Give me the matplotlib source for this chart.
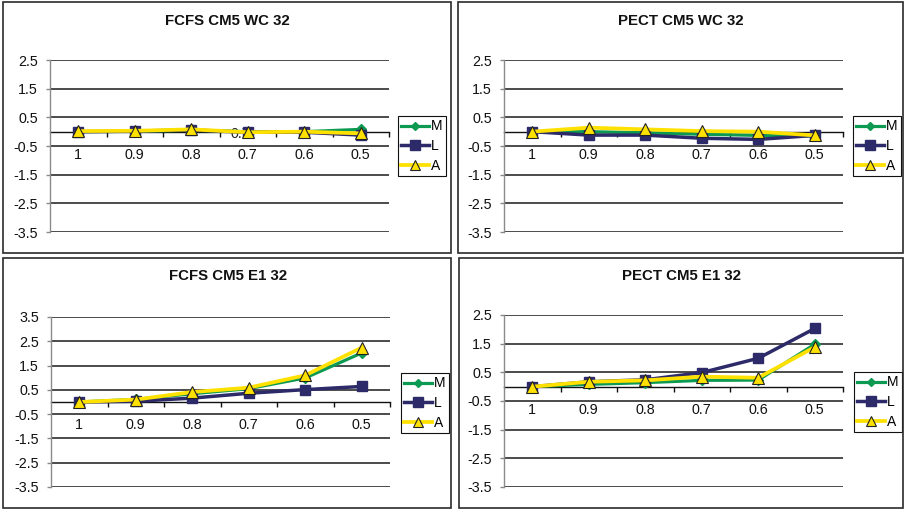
import matplotlib
matplotlib.use("Agg")
import matplotlib.pyplot as plt
from matplotlib.patches import Rectangle
from matplotlib.ticker import FixedLocator, NullFormatter

plt.rcParams['font.family'] = ['Liberation Sans', 'DejaVu Sans']

# ---- data ----
categories = ["1", "0.9", "0.8", "0.7", "0.6", "0.5"]
series_names = ["M", "L", "A"]

titles = ["FCFS CM5 WC 32", "PECT CM5 WC 32", "FCFS CM5 E1 32", "PECT CM5 E1 32"]

fcfs_wc_M = [0.0, 0.01, 0.05, 0.0, 0.0, 0.08]
fcfs_wc_L = [0.0, 0.02, 0.06, -0.02, -0.02, -0.12]
fcfs_wc_A = [0.02, 0.03, 0.08, -0.02, 0.0, -0.06]

pect_wc_M = [0.0, 0.0, -0.04, -0.09, -0.13, -0.15]
pect_wc_L = [0.0, -0.12, -0.12, -0.23, -0.27, -0.13]
pect_wc_A = [0.0, 0.14, 0.08, 0.02, 0.0, -0.13]

fcfs_e1_M = [0.0, 0.11, 0.34, 0.55, 0.99, 2.02]
fcfs_e1_L = [0.0, 0.03, 0.16, 0.36, 0.51, 0.64]
fcfs_e1_A = [0.0, 0.10, 0.41, 0.59, 1.10, 2.24]

pect_e1_M = [0.0, 0.08, 0.14, 0.22, 0.23, 1.48]
pect_e1_L = [0.0, 0.17, 0.24, 0.49, 0.99, 2.03]
pect_e1_A = [0.0, 0.17, 0.22, 0.35, 0.31, 1.38]

y_ticks_a = [-3.5, -2.5, -1.5, -0.5, 0.5, 1.5, 2.5]
y_ticks_b = [-3.5, -2.5, -1.5, -0.5, 0.5, 1.5, 2.5, 3.5]

panel_series = [
    (fcfs_wc_M, fcfs_wc_L, fcfs_wc_A),
    (pect_wc_M, pect_wc_L, pect_wc_A),
    (fcfs_e1_M, fcfs_e1_L, fcfs_e1_A),
    (pect_e1_M, pect_e1_L, pect_e1_A),
]
panel_yticks = [y_ticks_a, y_ticks_a, y_ticks_b, y_ticks_a]

# ---- layout (pixel boxes) ----
W, H = 905, 512
fig = plt.figure(figsize=(W / 100, H / 100), dpi=100)


def frac_rect(x0, y0, x1, y1):
    return [x0 / W, 1 - y1 / H, (x1 - x0) / W, (y1 - y0) / H]


borders = [(3, 2, 451, 253), (458, 2, 903, 253), (3, 258, 451, 508), (459, 258, 903, 508)]
plot_boxes = [(50, 60, 389, 232), (504, 60, 843, 232), (51, 317, 390, 487), (504, 315, 843, 487)]
legend_anchor = [(398, 116), (853, 116), (401, 373), (854, 372)]
title_pos = [(227, 21), (681, 21), (228, 276), (681, 276)]

TICK_FS = 10.3

styles = {
    "M": dict(color="#0c9a52", marker="D", markersize=4.8, markerfacecolor="#0c9a52",
              markeredgecolor="#0c9a52", linewidth=2.3, zorder=3),
    "L": dict(color="#2c2a68", marker="s", markersize=7.5, markerfacecolor="#2c2a68",
              markeredgecolor="#2c2a68", linewidth=2.5, zorder=4),
    "A": dict(color="#ffe100", marker="^", markersize=8.5, markerfacecolor="#ffe100",
              markeredgecolor="#222222", markeredgewidth=0.8, linewidth=2.7, zorder=5),
}

for i in range(4):
    bx = borders[i]
    fig.patches.append(Rectangle((bx[0] / W, 1 - bx[3] / H), (bx[2] - bx[0]) / W,
                                 (bx[3] - bx[1]) / H, transform=fig.transFigure,
                                 fill=False, edgecolor="#2a2a2a", linewidth=1.2))
    fig.text(title_pos[i][0] / W, 1 - title_pos[i][1] / H, titles[i], ha="center",
             va="center", fontsize=10.8, fontweight="bold", color="#111111")

    ax = fig.add_axes(frac_rect(*plot_boxes[i]))
    yt = panel_yticks[i]
    ax.set_ylim(yt[0], yt[-1])
    ax.set_xlim(-0.5, len(categories) - 0.5)
    ax.set_yticks(yt)
    ax.set_yticklabels([f"{v:g}" for v in yt])
    for v in yt:
        ax.axhline(v, color="#1a1a1a", linewidth=1.1, zorder=1)

    for s in ("top", "right"):
        ax.spines[s].set_visible(False)
    ax.spines["left"].set_color("#8a8a8a")
    ax.spines["left"].set_linewidth(1.0)
    ax.spines["bottom"].set_position(("data", 0))
    ax.spines["bottom"].set_color("#111111")
    ax.spines["bottom"].set_linewidth(1.0)
    ax.spines["bottom"].set_zorder(2)

    xs = list(range(len(categories)))
    ax.xaxis.set_major_locator(FixedLocator([k + 0.5 for k in xs]))
    ax.xaxis.set_major_formatter(NullFormatter())
    ax.xaxis.set_minor_locator(FixedLocator(xs))
    ax.set_xticklabels(categories, minor=True)
    ax.tick_params(axis="x", which="major", direction="out", length=3.5, width=1.0,
                   color="#111111")
    ax.tick_params(axis="x", which="minor", length=0, pad=11.8, labelsize=TICK_FS,
                   labelcolor="#111111")
    ax.tick_params(axis="y", direction="out", length=3, width=1.0, color="#8a8a8a",
                   pad=5.6, labelsize=TICK_FS, labelcolor="#111111")

    handles = []
    for name, vals in zip(series_names, panel_series[i]):
        (ln,) = ax.plot(xs, vals, label=name, clip_on=False, **styles[name])
        handles.append(ln)

    if i == 0:
        ax.text(2.70, -0.07, "0.7", fontsize=TICK_FS, ha="left", va="center",
                color="#222222", zorder=2)

    lx, ly = legend_anchor[i]
    leg = ax.legend(handles=handles, loc="upper left",
                    bbox_to_anchor=(lx / W, 1 - ly / H), bbox_transform=fig.transFigure,
                    fontsize=10, handlelength=2.0, handletextpad=0.1, borderpad=0.25,
                    labelspacing=0.4, borderaxespad=0, numpoints=1, fancybox=False,
                    framealpha=1, edgecolor="#111111", markerscale=0.9)
    leg.get_frame().set_linewidth(0.8)

fig.savefig("out.png", dpi=100)
